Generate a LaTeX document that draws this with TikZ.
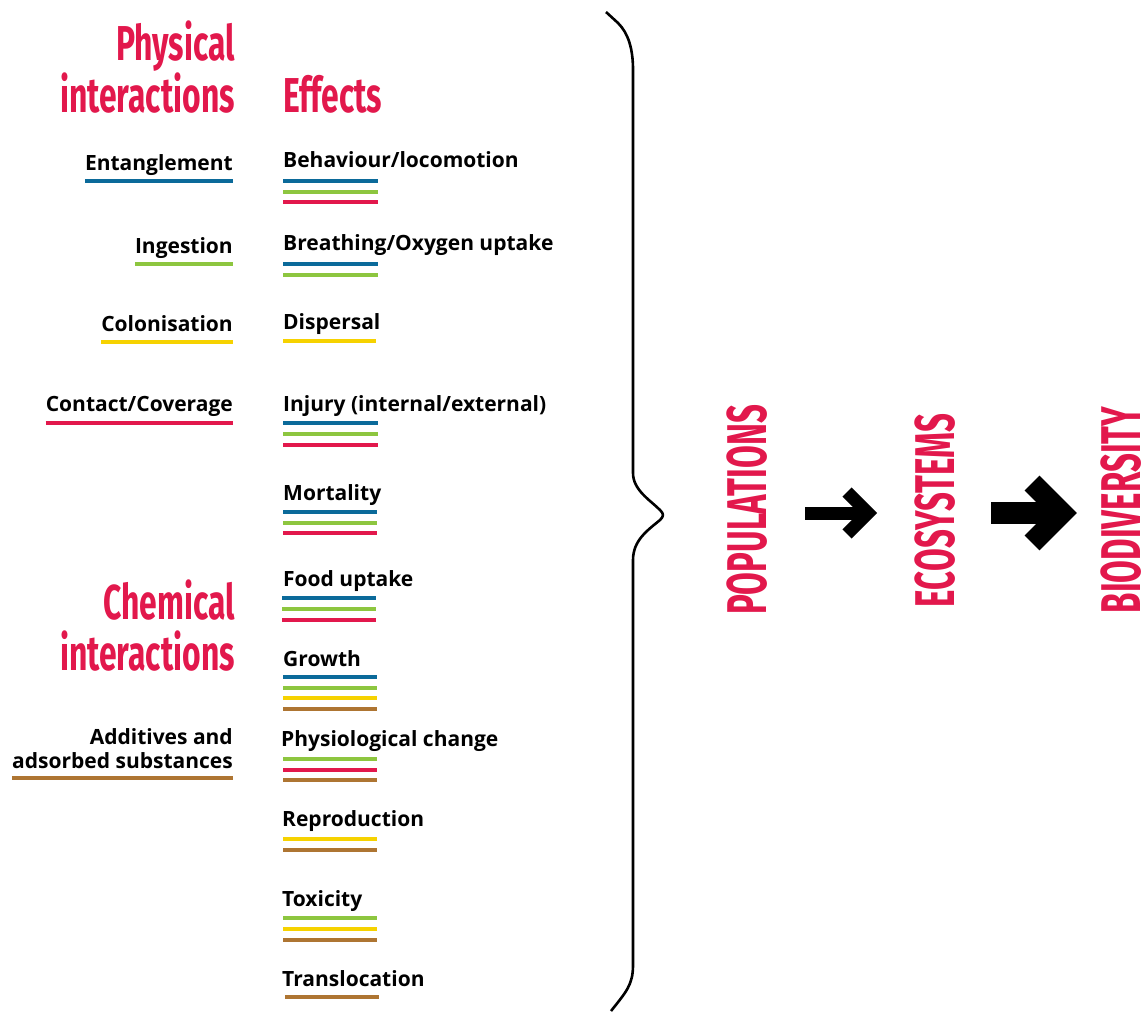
\documentclass[tikz,border=0pt]{standalone}
\usepackage{fontspec}
\setmainfont{Open Sans}
\newfontfamily\headfont[FakeStretch=0.65]{Fira Sans}
\newfontfamily\vertfont[FakeStretch=0.59]{Fira Sans}
\definecolor{pRed}{HTML}{E2184C}
\definecolor{pBlue}{HTML}{0B6A9A}
\definecolor{pGreen}{HTML}{8DC63F}
\definecolor{pYellow}{HTML}{F6D200}
\definecolor{pBrown}{HTML}{AE7532}
\tikzset{x=1pt, y=-1pt, % one unit is one pixel of the layout, y runs downwards
heading/.style={text=pRed, inner sep=0pt, font=\headfont\bfseries\fontsize{49}{49}\selectfont},
cause/.style={inner sep=0pt, anchor=base east, font=\bfseries\fontsize{21}{25}\selectfont},
effect/.style={inner sep=0pt, anchor=base west, font=\bfseries\fontsize{21}{25}\selectfont},
bar/.style={line width=4pt}, % the coloured strokes under the labels
level/.style={text=pRed, inner sep=0pt, rotate=90, font=\vertfont\bfseries\fontsize{56}{56}\selectfont},
fatarrow/.style={line width=#1, line join=miter},
}
\begin{document}
\begin{tikzpicture}
\useasboundingbox (0,0) rectangle (1147,1012);

% headings
\node[heading, anchor=base east] (phys1) at (235,60) {Physical};
\node[heading, anchor=base east] (phys2) at (235,112) {interactions};
\node[heading, anchor=base west] (eff) at (283,112) {Effects};
\node[heading, anchor=base east] (chem1) at (235,619) {Chemical};
\node[heading, anchor=base east] (chem2) at (235,670) {interactions};

% interactions
\node[cause] (ent) at (233,170) {Entanglement};
\node[cause] (ing) at (233,253) {Ingestion};
\node[cause] (col) at (233,331) {Colonisation};
\node[cause] (con) at (233,411) {Contact/Coverage};
\node[cause] (add1) at (233,744) {Additives and};
\node[cause] (add2) at (233,768) {adsorbed substances};
\draw[bar, pBlue] ([yshift=-11pt]ent.base west) -- ([yshift=-11pt]ent.base east);
\draw[bar, pGreen] ([yshift=-11pt]ing.base west) -- ([yshift=-11pt]ing.base east);
\draw[bar, pYellow] ([yshift=-11pt]col.base west) -- ([yshift=-11pt]col.base east);
\draw[bar, pRed] ([yshift=-12pt]con.base west) -- ([yshift=-12pt]con.base east);
\draw[bar, pBrown] ([yshift=-10pt]add2.base west) -- ([yshift=-10pt]add2.base east);

% effects
\node[effect] (beh) at (283,167) {Behaviour/locomotion};
\draw[bar, pBlue] (283,181) -- (378,181);
\draw[bar, pGreen] (283,191.5) -- (378,191.5);
\draw[bar, pRed] (283,202) -- (378,202);

\node[effect] (bre) at (283,250) {Breathing/Oxygen uptake};
\draw[bar, pBlue] (283,264) -- (378,264);
\draw[bar, pGreen] (283,274.5) -- (378,274.5);

\node[effect] (dis) at (283,329) {Dispersal};
\draw[bar, pYellow] (283,341) -- (376,341);

\node[effect] (inj) at (283,411) {Injury (internal/external)};
\draw[bar, pBlue] (283,423) -- (378,423);
\draw[bar, pGreen] (283,434) -- (378,434);
\draw[bar, pRed] (283,444.5) -- (378,444.5);

\node[effect] (mor) at (283,500) {Mortality};
\draw[bar, pBlue] (283,512) -- (377,512);
\draw[bar, pGreen] (283,522.5) -- (377,522.5);
\draw[bar, pRed] (283,533) -- (377,533);

\node[effect] (foo) at (283,586) {Food uptake};
\draw[bar, pBlue] (282,598) -- (376,598);
\draw[bar, pGreen] (282,609) -- (376,609);
\draw[bar, pRed] (282,619.5) -- (376,619.5);

\node[effect] (gro) at (283,666) {Growth};
\draw[bar, pBlue] (283,677) -- (377,677);
\draw[bar, pGreen] (283,687.5) -- (377,687.5);
\draw[bar, pYellow] (283,698) -- (377,698);
\draw[bar, pBrown] (283,708.5) -- (377,708.5);

\node[effect] (phy) at (281,746) {Physiological change};
\draw[bar, pGreen] (283,759) -- (377,759);
\draw[bar, pRed] (283,769.5) -- (377,769.5);
\draw[bar, pBrown] (283,780) -- (377,780);

\node[effect] (rep) at (282,826) {Reproduction};
\draw[bar, pYellow] (283,839) -- (377,839);
\draw[bar, pBrown] (283,850) -- (377,850);

\node[effect] (tox) at (282,906) {Toxicity};
\draw[bar, pGreen] (283,918) -- (377,918);
\draw[bar, pYellow] (283,929) -- (377,929);
\draw[bar, pBrown] (283,939.5) -- (377,939.5);

\node[effect] (tra) at (282,986) {Translocation};
\draw[bar, pBrown] (285,997) -- (379,997);

% the brace
\draw[line width=2.6pt, line join=round]
  (606,12) -- (618,23) .. controls (628,33) and (633,48) .. (633,70)
  -- (633,473) .. controls (633,490) and (650,500) .. (660,510)
  .. controls (664,514) and (664,516) .. (660,520)
  .. controls (648,530) and (633,540) .. (633,560)
  -- (633,965) .. controls (633,985) and (626,992) .. (611,1011);

% levels
\node[level] (pop) at (747,510) {POPULATIONS};
\node[level] (eco) at (935.5,510.5) {ECOSYSTEMS};
\node[level] (bio) at (1121,510) {BIODIVERSITY};

\coordinate (a1s) at (805,513);
\coordinate (a1t) at (868,513);
\coordinate (a2s) at (991,513);
\coordinate (a2t) at (1062,513);
\draw[fatarrow=13pt] (a1s) -- (a1t);
\draw[fatarrow=13pt] ([shift={(-21,-21)}]a1t) -- (a1t) -- ([shift={(-21,21)}]a1t);
\draw[fatarrow=22pt] (a2s) -- (a2t);
\draw[fatarrow=21pt] ([shift={(-30,-30)}]a2t) -- (a2t) -- ([shift={(-30,30)}]a2t);
\end{tikzpicture}
\end{document}
